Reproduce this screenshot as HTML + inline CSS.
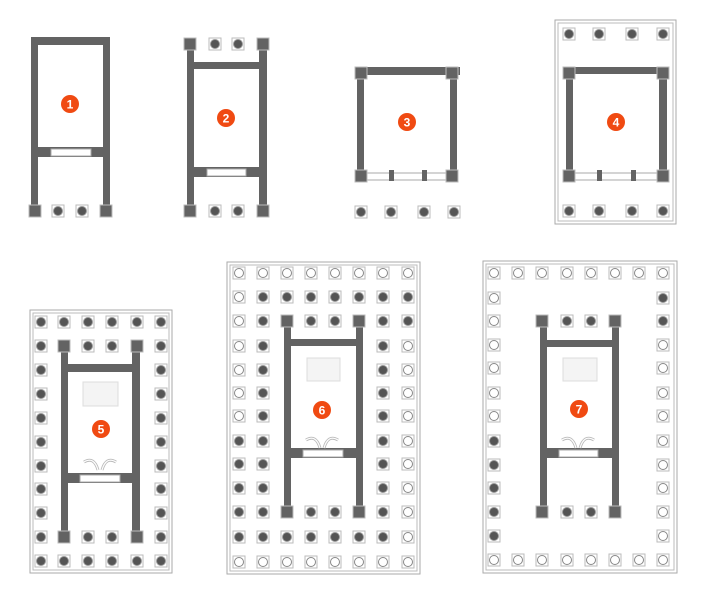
<!DOCTYPE html>
<html><head><meta charset="utf-8"><style>
html,body{margin:0;padding:0;background:#fff;width:707px;height:600px;overflow:hidden}
svg{display:block}
.b text{font-family:"Liberation Sans",sans-serif;font-weight:bold;font-size:12px;fill:#fff;text-anchor:middle}
</style></head><body>
<svg id="s" width="707" height="600" viewBox="0 0 707 600" xmlns="http://www.w3.org/2000/svg">
<g id="g"></g>
<g class="b">
<circle cx="70" cy="104" r="9" fill="#f04a12"/><text x="70" y="108.5">1</text>
<circle cx="226" cy="118" r="9" fill="#f04a12"/><text x="226" y="122.5">2</text>
<circle cx="407" cy="122" r="9" fill="#f04a12"/><text x="407" y="126.5">3</text>
<circle cx="616" cy="122" r="9" fill="#f04a12"/><text x="616" y="126.5">4</text>
<circle cx="101" cy="429" r="9" fill="#f04a12"/><text x="101" y="433.5">5</text>
<circle cx="322" cy="410" r="9" fill="#f04a12"/><text x="322" y="414.5">6</text>
<circle cx="579" cy="409" r="9" fill="#f04a12"/><text x="579" y="413.5">7</text>
</g>
</svg>
<script>
var o='';var W='#636363';
function R(x,y,w,h,f,s){o+='<rect x="'+x+'" y="'+y+'" width="'+w+'" height="'+h+'" fill="'+(f||W)+'"'+(s?' stroke="'+s+'" stroke-width="1"':'')+'/>';}
function C(x,y,t){
 if(t=='a'){R(x-6,y-6,12,12,W,'#bbb');return;}
 R(x-6,y-6,12,12,'#fff','#bbb');
 o+='<circle cx="'+x+'" cy="'+y+'" r="4.5" fill="'+(t=='d'?'#555':'#fff')+'" stroke="'+(t=='d'?'#999':'#888')+'" stroke-width="1"/>';}
function door(x1,x2,y1,y2){R(x1,y1,x2-x1,y2-y1,'#fff','#aaa');}
function B(x,y,w,h){o+='<rect x="'+x+'" y="'+y+'" width="'+w+'" height="'+h+'" fill="none" stroke="#aaa"/>';o+='<rect x="'+(x+3)+'" y="'+(y+3)+'" width="'+(w-6)+'" height="'+(h-6)+'" fill="none" stroke="#bbb"/>';}
function statue(x,y,w,h){R(x,y,w,h,'#f4f4f4','#ddd');}
function arcs(cx,y){o+='<path d="M'+(cx-16)+' '+y+' q10 -6 14 8 M'+(cx+16)+' '+y+' q-10 -6 -14 8" fill="none" stroke="#bbb" stroke-width="3"/><path d="M'+(cx-16)+' '+y+' q10 -6 14 8 M'+(cx+16)+' '+y+' q-10 -6 -14 8" fill="none" stroke="#fff" stroke-width="1.2"/>';}
// 1
R(31,37,79,8);R(31,37,7,172);R(103,37,7,172);
R(38,147,65,10);door(51,91,149,156);
C(35,211,'a');C(58,211,'d');C(82,211,'d');C(106,211,'a');
// 2
R(187,44,7,170);R(259,44,8,170);R(194,62,65,7);R(194,167,65,10);door(207,246,169,176);
C(190,44,'a');C(215,44,'d');C(238,44,'d');C(263,44,'a');
C(190,211,'a');C(215,211,'d');C(238,211,'d');C(263,211,'a');
// 3
R(355,67,105,8);R(357,67,7,112);R(450,67,7,112);
R(364,173,86,7,'#fff','#aaa');
C(361,73,'a');C(452,73,'a');C(361,176,'a');C(452,176,'a');
R(389,170,5,11);R(422,170,5,11);
C(361,212,'d');C(391,212,'d');C(424,212,'d');C(454,212,'d');
// 4
B(555,20,121,204);
R(564,67,104,7);R(566,67,7,112);R(659,67,8,112);
R(573,173,86,7,'#fff','#aaa');
C(569,73,'a');C(663,73,'a');C(569,176,'a');C(663,176,'a');
R(597,170,5,11);R(631,170,5,11);
[569,599,632,663].forEach(function(x){C(x,34,'d');C(x,211,'d');});
// 5
B(30,310,142,263);
var xs5=[41,64,88,112,137,161],ys5=[322,346,370,394,418,442,466,489,513,537,561];
R(61,346,7,191);R(132,346,8,191);R(68,364,64,8);R(68,473,64,10);door(80,120,475,482);
statue(83,382,35,24);arcs(100,462);
ys5.forEach(function(y,i){xs5.forEach(function(x,j){
 var edge=(i==0||i==10||j==0||j==5);
 if(edge)C(x,y,'d');
 else if(i==1||i==9){C(x,y,(j==1||j==4)?'a':'d');}
});});
// 6
B(227,262,193,312);
var xs6=[239,263,287,311,335,359,383,408],ys6=[273,297,321,346,370,393,416,441,464,488,512,537,562];
R(284,321,7,191);R(356,321,7,191);R(291,339,65,7);R(291,448,65,10);door(303,343,450,457);
statue(307,358,33,23);arcs(322,440);
ys6.forEach(function(y,i){xs6.forEach(function(x,j){
 var t=null;
 if(i==0||i==12)t='o';
 else if(i==1)t=(j==0)?'o':'d';
 else if(i==11)t=(j==7)?'o':'d';
 else if(i==2||i==10){t=(j==2||j==5)?'a':(j==0?'o':(j==7?'o':'d'));if(i==2&&j==7)t='d';if(i==10&&j==0)t='d';}
 else{ if(j==0)t=(i>=7)?'d':'o'; else if(j==1||j==6)t='d'; else if(j==7)t='o';}
 if(t)C(x,y,t);
});});
// 7
B(483,261,194,312);
var xs7=[494,518,542,567,591,615,639,663],ys7=[273,298,321,345,368,393,416,441,465,488,512,536,560];
R(540,321,7,191);R(612,321,7,191);R(547,340,65,7);R(547,448,65,10);door(559,598,450,457);
statue(563,358,34,23);arcs(578,440);
ys7.forEach(function(y,i){xs7.forEach(function(x,j){
 var t=null;
 if(i==0||i==12)t='o';
 else if(j==0)t=(i>=7&&i<=11)?'d':'o';
 else if(j==7)t=(i==1||i==2)?'d':'o';
 else if(i==2||i==10){if(j==2||j==5)t='a';else if(j==3||j==4)t='d';}
 if(t)C(x,y,t);
});});
document.getElementById('g').innerHTML=o;
</script>
</body></html>
